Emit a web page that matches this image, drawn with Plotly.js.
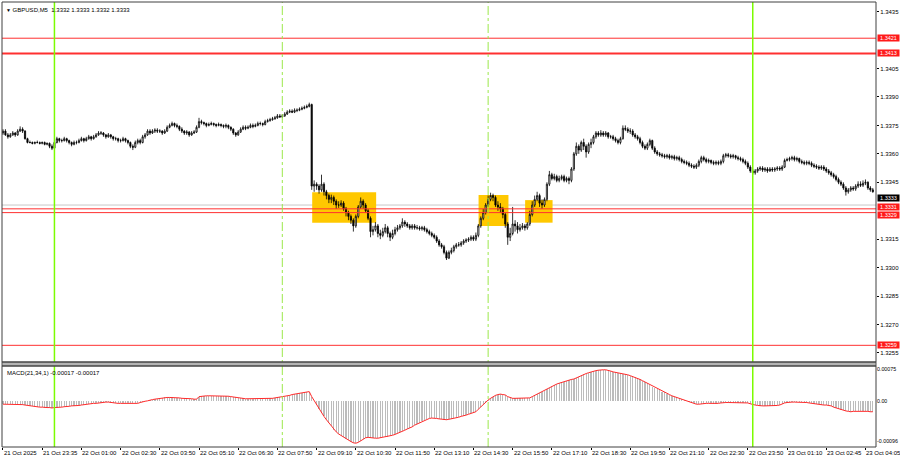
<!DOCTYPE html>
<html>
<head>
<meta charset="utf-8">
<script src="https://cdn.plot.ly/plotly-3.0.1.min.js"></script>
<style>html,body{margin:0;padding:0;background:#fff;}#chart{width:900px;height:460px;}</style>
</head>
<body>
<div id="chart"></div>
<script>
// ---- data (GBPUSD M5) ----
const firstOpen = 1.3371;
const close = [
1.3372,1.3370,1.3369,1.3370,1.3371,1.3370,1.3372,1.3373,1.3372,1.3368,
1.3366,1.3366,1.33655,1.3366,1.3366,1.33655,1.3366,1.3365,1.33655,1.3364,
1.3363,1.3366,1.3368,1.3367,1.3367,1.3368,1.3367,1.3366,1.3365,1.3366,
1.3366,1.3367,1.3368,1.3367,1.3368,1.3369,1.3368,1.3369,1.3370,1.3371,
1.3371,1.3370,1.3369,1.3370,1.3369,1.3368,1.3368,1.3367,1.3367,1.3368,
1.3367,1.3366,1.3364,1.33635,1.3366,1.3367,1.3366,1.3369,1.3370,1.3372,
1.3371,1.3372,1.33725,1.3372,1.3372,1.3371,1.3372,1.3374,1.3375,1.3376,
1.3375,1.33745,1.3373,1.3372,1.3371,1.33715,1.3370,1.3371,1.33715,1.3374,
1.3377,1.33765,1.3376,1.3375,1.33755,1.3376,1.33755,1.3375,1.33755,1.3375,
1.33745,1.3375,1.3374,1.3373,1.3371,1.3370,1.33715,1.3373,1.3374,1.33735,
1.3374,1.3375,1.33745,1.3375,1.3376,1.3376,1.33755,1.3377,1.33775,1.3378,
1.33785,1.3379,1.3380,1.33795,1.3380,1.3381,1.3382,1.33825,1.3382,1.3383,
1.3383,1.33835,1.3384,1.33845,1.3385,1.3386,1.3343,1.3344,1.3343,1.3341,
1.3344,1.3340,1.3338,1.3336,1.3337,1.3335,1.3333,1.3333,1.3334,1.3331,
1.3329,1.3327,1.3325,1.3322,1.3327,1.3332,1.3335,1.3333,1.3330,1.3326,
1.3319,1.3320,1.3322,1.3318,1.3317,1.3319,1.3321,1.3318,1.3316,1.3318,
1.3320,1.3321,1.3322,1.3324,1.3323,1.3322,1.3321,1.3322,1.3321,1.3321,
1.33205,1.3321,1.3320,1.3319,1.3318,1.3317,1.3316,1.3314,1.3312,1.3311,
1.3308,1.3305,1.3308,1.3309,1.3311,1.3312,1.3312,1.3313,1.3314,1.33145,
1.3315,1.3316,1.3315,1.3317,1.3322,1.3326,1.3329,1.3333,1.3336,1.3338,
1.3337,1.3333,1.3332,1.3331,1.3328,1.3323,1.3316,1.3318,1.3323,1.3322,
1.3320,1.3321,1.3322,1.3321,1.3323,1.3328,1.3333,1.3336,1.3338,1.3334,
1.3333,1.3336,1.3344,1.3349,1.3347,1.3348,1.3346,1.3347,1.3348,1.3346,
1.3347,1.3346,1.3352,1.3360,1.3364,1.3362,1.3366,1.3364,1.3361,1.3365,
1.3366,1.3369,1.3371,1.3370,1.3371,1.3370,1.3371,1.3369,1.3369,1.3368,
1.3367,1.3366,1.3368,1.33735,1.3373,1.3372,1.3372,1.3370,1.3369,1.3368,
1.3366,1.3364,1.3363,1.3365,1.3367,1.3363,1.3361,1.3360,1.33595,1.3359,
1.33585,1.3359,1.3358,1.33585,1.33575,1.3358,1.3357,1.3356,1.33555,1.3355,
1.3354,1.33535,1.3353,1.3354,1.3356,1.3358,1.3357,1.3356,1.33565,1.33555,
1.3355,1.33555,1.3355,1.3356,1.3359,1.33595,1.3359,1.33585,1.3359,1.3358,
1.33575,1.3357,1.3356,1.3355,1.3353,1.3351,1.3350,1.3351,1.3352,1.33525,
1.33515,1.3352,1.3351,1.3352,1.33515,1.3352,1.33525,1.3352,1.3353,1.33565,
1.3357,1.33575,1.3358,1.3357,1.33575,1.3356,1.33555,1.3355,1.33555,1.3355,
1.3354,1.33535,1.3353,1.33525,1.3353,1.3352,1.3351,1.3350,1.3349,1.3348,
1.33465,1.3345,1.3344,1.3342,1.3340,1.3341,1.3342,1.33415,1.3343,1.3344,
1.33435,1.33445,1.3345,1.3342,1.3341,1.3340
];
const high = [
1.3373,1.3373,1.3371,1.3371,1.3372,1.33715,1.3373,1.33745,1.3374,1.33725,
1.33685,1.3367,1.33665,1.33665,1.3367,1.33665,1.33665,1.33665,1.3366,1.3366,
1.3365,1.3367,1.3369,1.33685,1.3368,1.3369,1.33685,1.33675,1.33665,1.3367,
1.3367,1.3368,1.3369,1.33685,1.3369,1.3370,1.33695,1.3370,1.3371,1.3372,
1.3372,1.33715,1.33705,1.3371,1.33705,1.33695,1.3369,1.33685,1.3368,1.3369,
1.33685,1.33675,1.33665,1.3365,1.3367,1.3368,1.3368,1.3370,1.3371,1.3373,
1.3373,1.3373,1.33735,1.33735,1.3373,1.33725,1.3373,1.3375,1.3376,1.3377,
1.33765,1.3376,1.3375,1.3374,1.33725,1.33725,1.3372,1.3372,1.33725,1.3375,
1.3379,1.3378,1.3377,1.33765,1.33765,1.3377,1.33765,1.3376,1.33765,1.3376,
1.33755,1.3376,1.33755,1.33745,1.33735,1.33715,1.33725,1.3374,1.3375,1.3375,
1.3375,1.3376,1.3376,1.3376,1.3377,1.3377,1.33765,1.3378,1.33785,1.3379,
1.33795,1.3380,1.3381,1.3381,1.3381,1.3382,1.3383,1.33835,1.33835,1.3384,
1.3384,1.33845,1.3385,1.33855,1.3386,1.3387,1.33865,1.3346,1.3345,1.3344,
1.3349,1.3345,1.3341,1.3339,1.33385,1.3338,1.3336,1.3335,1.33355,1.3335,
1.3332,1.3330,1.3328,1.3326,1.3328,1.3333,1.3337,1.3336,1.3334,1.3331,
1.3327,1.3322,1.3324,1.3323,1.3320,1.3321,1.3323,1.3322,1.3319,1.3320,
1.33215,1.33225,1.3323,1.3326,1.3325,1.3324,1.3323,1.3323,1.3323,1.33225,
1.3322,1.3322,1.3322,1.3321,1.3320,1.3319,1.3318,1.3317,1.3315,1.3313,
1.3312,1.3309,1.3309,1.33105,1.3312,1.3313,1.33135,1.3314,1.3315,1.33155,
1.3316,1.3317,1.3317,1.33185,1.3323,1.3327,1.3331,1.3334,1.3338,1.33395,
1.3339,1.3338,1.3335,1.3334,1.3332,1.3329,1.3324,1.3321,1.3332,1.3325,
1.3324,1.3323,1.33235,1.3323,1.3324,1.3330,1.3335,1.3338,1.3340,1.3339,
1.3336,1.3337,1.3345,1.3351,1.3350,1.33495,1.3349,1.33485,1.3349,1.3349,
1.3348,1.3348,1.3353,1.3361,1.3366,1.3365,1.3367,1.3368,1.3365,1.3366,
1.3368,1.3370,1.3372,1.3372,1.33725,1.3372,1.3372,1.33715,1.3370,1.3370,
1.3369,1.3368,1.3369,1.3375,1.3375,1.3374,1.33735,1.3373,1.3371,1.3370,
1.3369,1.3367,1.3365,1.3366,1.3368,1.33675,1.3364,1.3362,1.3361,1.33605,
1.3360,1.3360,1.3360,1.33595,1.33595,1.3359,1.3359,1.3358,1.3357,1.33565,
1.3356,1.3355,1.33545,1.3355,1.3357,1.3359,1.3359,1.3358,1.33575,1.3357,
1.33565,1.33565,1.33565,1.3357,1.3360,1.33605,1.33605,1.3360,1.3360,1.33595,
1.3359,1.33585,1.3358,1.3357,1.3356,1.3354,1.3352,1.3352,1.3353,1.33535,
1.33535,1.3353,1.3353,1.3353,1.3353,1.3353,1.33535,1.33535,1.3354,1.33575,
1.3358,1.33585,1.3359,1.3359,1.33585,1.3358,1.3357,1.33565,1.33565,1.33565,
1.3356,1.3355,1.33545,1.3354,1.3354,1.3354,1.3353,1.3352,1.3351,1.3350,
1.3349,1.33475,1.3346,1.3345,1.3343,1.3342,1.3343,1.3343,1.3344,1.33455,
1.33455,1.3346,1.33465,1.33455,1.3343,1.3342
];
const low = [
1.3370,1.33695,1.3368,1.33685,1.33695,1.3369,1.33695,1.33715,1.3371,1.33675,
1.33655,1.33655,1.3365,1.3365,1.33655,1.3365,1.3365,1.33645,1.33645,1.3363,
1.3362,1.33625,1.33655,1.3366,1.3366,1.33665,1.3366,1.3365,1.3364,1.33645,
1.3365,1.33655,1.33665,1.3366,1.33665,1.33675,1.3367,1.33675,1.33685,1.33695,
1.3370,1.3369,1.3368,1.33685,1.3368,1.3367,1.3367,1.3366,1.3366,1.33665,
1.3366,1.3365,1.3363,1.3362,1.3363,1.3365,1.3365,1.33655,1.3368,1.33695,
1.3370,1.33705,1.3371,1.3371,1.3371,1.3370,1.33705,1.33715,1.33735,1.33745,
1.3374,1.33735,1.3372,1.3371,1.3370,1.3370,1.3369,1.33695,1.33705,1.3371,
1.33735,1.33755,1.3375,1.3374,1.33745,1.3375,1.33745,1.3374,1.33745,1.3374,
1.33735,1.33735,1.3373,1.3372,1.3370,1.3369,1.33695,1.3371,1.33725,1.33725,
1.3373,1.33735,1.33735,1.3374,1.33745,1.3375,1.33745,1.3375,1.33765,1.3377,
1.33775,1.3378,1.33785,1.3379,1.3379,1.33795,1.33805,1.33815,1.33815,1.33815,
1.3382,1.33825,1.3383,1.33835,1.3384,1.33845,1.3341,1.3340,1.3341,1.3339,
1.3340,1.3338,1.3336,1.3334,1.3334,1.3333,1.3331,1.33315,1.3332,1.3330,
1.3327,1.3325,1.3323,1.3319,1.3321,1.3326,1.3331,1.3331,1.3329,1.3325,
1.3316,1.3317,1.3319,1.3316,1.3315,1.3316,1.3318,1.3316,1.3314,1.3315,
1.3317,1.3319,1.3320,1.3321,1.33215,1.3321,1.3320,1.3320,1.3320,1.3320,
1.33195,1.33195,1.3319,1.3318,1.3317,1.3316,1.3315,1.3313,1.3311,1.3310,
1.3307,1.3304,1.33045,1.3307,1.3308,1.3310,1.3311,1.3311,1.3312,1.3313,
1.33135,1.3314,1.3314,1.3314,1.3316,1.3321,1.3325,1.3328,1.3332,1.3335,
1.3335,1.3332,1.3330,1.3329,1.3326,1.3321,1.3312,1.3314,1.3317,1.3319,
1.3318,1.3319,1.3320,1.33195,1.3320,1.3322,1.3327,1.3332,1.3335,1.3332,
1.3331,1.3332,1.3335,1.3343,1.3346,1.3346,1.3345,1.3345,1.3346,1.3345,
1.3345,1.3344,1.3345,1.3351,1.3359,1.3360,1.3361,1.3362,1.3358,1.3360,
1.3363,1.3365,1.3368,1.3369,1.3369,1.3369,1.3369,1.3368,1.3368,1.3367,
1.3366,1.3365,1.3365,1.33675,1.3372,1.3371,1.33705,1.3369,1.3368,1.3367,
1.3365,1.3363,1.3362,1.3362,1.3364,1.3362,1.3360,1.3359,1.33585,1.3358,
1.33575,1.33575,1.3357,1.3357,1.33565,1.33565,1.3356,1.3355,1.33545,1.3354,
1.3353,1.33525,1.3352,1.3352,1.3353,1.3355,1.3356,1.3355,1.3355,1.33545,
1.3354,1.3354,1.3354,1.3354,1.3355,1.3358,1.3358,1.33575,1.33575,1.3357,
1.33565,1.3356,1.3355,1.3354,1.3352,1.3350,1.3349,1.3349,1.3350,1.3351,
1.33505,1.33505,1.3350,1.33505,1.33505,1.33505,1.3351,1.3351,1.3351,1.33525,
1.3356,1.3356,1.33565,1.3356,1.3356,1.3355,1.33545,1.3354,1.3354,1.3354,
1.3353,1.33525,1.3352,1.33515,1.33515,1.3351,1.3350,1.3349,1.3348,1.3347,
1.33455,1.3344,1.3343,1.3341,1.3338,1.3339,1.3340,1.33405,1.33405,1.3342,
1.33425,1.33425,1.33435,1.3341,1.3340,1.33395
];
const macd = [
-0.00008,-0.00008,-0.00008,-0.00008,-0.00008,-0.00008,-0.00009,-0.00009,-0.00009,-0.00010,
-0.00011,-0.00012,-0.00013,-0.00014,-0.00014,-0.00015,-0.00015,-0.00016,-0.00016,-0.00016,
-0.00017,-0.00016,-0.00016,-0.00015,-0.00015,-0.00014,-0.00014,-0.00013,-0.00012,-0.00012,
-0.00011,-0.00011,-0.00010,-0.00009,-0.00008,-0.00007,-0.00007,-0.00006,-0.00006,-0.00005,
-0.00004,-0.00003,-0.00003,-0.00003,-0.00004,-0.00005,-0.00005,-0.00006,-0.00006,-0.00006,
-0.00006,-0.00006,-0.00006,-0.00006,-0.00006,-0.00006,-0.00004,-0.00002,-0.00001,0.00000,
0.00002,0.00003,0.00004,0.00005,0.00006,0.00007,0.00008,0.00008,0.00008,0.00008,
0.00007,0.00007,0.00007,0.00006,0.00006,0.00006,0.00005,0.00005,0.00004,0.00004,
0.00010,0.00011,0.00012,0.00012,0.00012,0.00012,0.00012,0.00012,0.00012,0.00012,
0.00012,0.00011,0.00011,0.00010,0.00009,0.00008,0.00007,0.00006,0.00006,0.00005,
0.00005,0.00005,0.00005,0.00005,0.00005,0.00005,0.00005,0.00005,0.00006,0.00006,
0.00006,0.00007,0.00008,0.00008,0.00009,0.00010,0.00012,0.00013,0.00015,0.00016,
0.00017,0.00018,0.00019,0.00020,0.00021,0.00022,0.00010,0.00000,-0.00010,-0.00020,
-0.00028,-0.00037,-0.00045,-0.00053,-0.00061,-0.00069,-0.00074,-0.00079,-0.00083,-0.00087,
-0.00091,-0.00094,-0.00097,-0.00100,-0.00101,-0.00099,-0.00095,-0.00091,-0.00088,-0.00087,
-0.00088,-0.00089,-0.00089,-0.00089,-0.00088,-0.00087,-0.00086,-0.00085,-0.00084,-0.00082,
-0.00080,-0.00077,-0.00075,-0.00072,-0.00070,-0.00067,-0.00065,-0.00062,-0.00058,-0.00055,
-0.00052,-0.00049,-0.00046,-0.00043,-0.00042,-0.00041,-0.00041,-0.00042,-0.00043,-0.00044,
-0.00045,-0.00045,-0.00044,-0.00043,-0.00042,-0.00040,-0.00039,-0.00037,-0.00036,-0.00034,
-0.00032,-0.00030,-0.00028,-0.00026,-0.00020,-0.00014,-0.00008,-0.00003,0.00002,0.00006,
0.00010,0.00013,0.00015,0.00016,0.00015,0.00014,0.00010,0.00007,0.00006,0.00006,
0.00006,0.00006,0.00006,0.00006,0.00006,0.00007,0.00010,0.00013,0.00016,0.00019,
0.00021,0.00024,0.00028,0.00031,0.00035,0.00038,0.00040,0.00042,0.00044,0.00046,
0.00048,0.00050,0.00051,0.00052,0.00055,0.00058,0.00061,0.00063,0.00065,0.00067,
0.00069,0.00071,0.00072,0.00073,0.00074,0.00074,0.00074,0.00073,0.00071,0.00069,
0.00068,0.00067,0.00066,0.00065,0.00064,0.00062,0.00060,0.00058,0.00056,0.00054,
0.00051,0.00048,0.00045,0.00042,0.00038,0.00034,0.00031,0.00028,0.00025,0.00022,
0.00020,0.00017,0.00015,0.00012,0.00010,0.00008,0.00006,0.00004,0.00002,0.00000,
-0.00002,-0.00004,-0.00006,-0.00008,-0.00008,-0.00007,-0.00007,-0.00006,-0.00006,-0.00006,
-0.00007,-0.00007,-0.00006,-0.00005,-0.00004,-0.00004,-0.00004,-0.00004,-0.00004,-0.00004,
-0.00004,-0.00004,-0.00004,-0.00004,-0.00005,-0.00007,-0.00009,-0.00010,-0.00011,-0.00012,
-0.00012,-0.00012,-0.00012,-0.00012,-0.00012,-0.00012,-0.00011,-0.00010,-0.00007,-0.00005,
-0.00004,-0.00003,-0.00003,-0.00003,-0.00003,-0.00003,-0.00003,-0.00003,-0.00004,-0.00005,
-0.00006,-0.00007,-0.00008,-0.00008,-0.00009,-0.00010,-0.00010,-0.00011,-0.00012,-0.00015,
-0.00017,-0.00019,-0.00021,-0.00022,-0.00024,-0.00025,-0.00026,-0.00025,-0.00025,-0.00024,
-0.00024,-0.00024,-0.00024,-0.00025,-0.00026,-0.00026
];
const timeLabels = ["21 Oct 2025","21 Oct 23:35","22 Oct 01:00","22 Oct 02:30","22 Oct 03:50","22 Oct 05:10","22 Oct 06:30","22 Oct 07:50","22 Oct 09:10","22 Oct 10:30","22 Oct 11:50","22 Oct 13:10","22 Oct 14:30","22 Oct 15:50","22 Oct 17:10","22 Oct 18:30","22 Oct 19:50","22 Oct 21:10","22 Oct 22:30","22 Oct 23:50","23 Oct 01:10","23 Oct 02:45","23 Oct 04:05"];
const timeLabelBars = [0,16,32,48,64,80,96,112,128,144,160,176,192,208,224,240,256,272,288,304,320,336,352];
const priceTicks = [1.3435,1.3405,1.3390,1.3375,1.3360,1.3345,1.3315,1.3300,1.3285,1.3270,1.3255];
const macdTicks = [0.00075,0.00,-0.00096];
const macdTickText = ["0.00075","0.00","-0.00096"];
const levels = [1.3421,1.3413,1.3331,1.3329,1.3259];
const levelWidths = [1,2,1,1,1];
const levelLabelShift = [0,0,2,-2,0];
const currentPrice = 1.3333;
const dayStartBars = [21,306];
const sessionBars = [114,198];
const zones = [ // [fromBar, toBar, top, bottom]
  [126.2,152.3,1.33397,1.33237],
  [194.1,206.3,1.33383,1.33219],
  [213.1,224.3,1.33356,1.33237]
];
const chartTitle = "GBPUSD,M5  1.3332 1.3333 1.3332 1.3333";
const macdTitle = "MACD(21,34,1) -0.00017 -0.00017";

// ---- build ----
const bars = close.map((_, i) => i);
const open = [firstOpen].concat(close.slice(0, -1));
const FONT = "Liberation Sans, Arial, DejaVu Sans, sans-serif";
const MAIN_DOM = [0.191, 1];
const MACD_DOM = [0, 0.182];

const traces = [
  {
    type: 'candlestick', x: bars, open: open, high: high, low: low, close: close,
    xaxis: 'x', yaxis: 'y', hoverinfo: 'skip', whiskerwidth: 0,
    increasing: {line: {color: '#000000', width: 0.8}, fillcolor: '#ffffff'},
    decreasing: {line: {color: '#000000', width: 0.8}, fillcolor: '#000000'},
    showlegend: false
  },
  {
    type: 'bar', x: bars, y: macd, xaxis: 'x', yaxis: 'y2', width: 0.5,
    marker: {color: '#bcbcbc', line: {width: 0}}, hoverinfo: 'skip', showlegend: false
  },
  {
    type: 'scatter', mode: 'lines', x: bars, y: macd, xaxis: 'x', yaxis: 'y2',
    line: {color: '#ff2a2a', width: 1}, hoverinfo: 'skip', showlegend: false
  }
];

const shapes = [];
zones.forEach(z => shapes.push({type: 'rect', xref: 'x', yref: 'y', x0: z[0], x1: z[1], y0: z[3], y1: z[2],
  fillcolor: '#ffc800', line: {width: 0}, layer: 'below'}));
shapes.push({type: 'line', xref: 'paper', yref: 'y', x0: 0, x1: 1, y0: currentPrice, y1: currentPrice,
  line: {color: '#c8c8c8', width: 1}, layer: 'below'});
levels.forEach((lv, k) => shapes.push({type: 'line', xref: 'paper', yref: 'y', x0: 0, x1: 1, y0: lv, y1: lv,
  line: {color: '#ff3030', width: levelWidths[k]}, layer: 'above'}));
dayStartBars.forEach(b => shapes.push({type: 'line', xref: 'x', yref: 'paper', x0: b, x1: b, y0: 0, y1: 1,
  line: {color: '#7cfc00', width: 1.5}, layer: 'above'}));
sessionBars.forEach(b => shapes.push({type: 'line', xref: 'x', yref: 'paper', x0: b, x1: b, y0: 0, y1: 1,
  line: {color: '#9be84a', width: 1, dash: 'dashdot'}, layer: 'above'}));
// pane borders and separator
shapes.push({type: 'rect', xref: 'paper', yref: 'paper', x0: 0, x1: 1, y0: MACD_DOM[1], y1: MAIN_DOM[0],
  fillcolor: '#b4b4b4', line: {color: '#505050', width: 1}, layer: 'above'});
shapes.push({type: 'rect', xref: 'paper', yref: 'paper', x0: 0, x1: 1, y0: MAIN_DOM[0], y1: 1,
  line: {color: '#404040', width: 1}, fillcolor: 'rgba(0,0,0,0)', layer: 'above'});
shapes.push({type: 'rect', xref: 'paper', yref: 'paper', x0: 0, x1: 1, y0: 0, y1: MACD_DOM[1],
  line: {color: '#404040', width: 1}, fillcolor: 'rgba(0,0,0,0)', layer: 'above'});

const annotations = [];
timeLabels.forEach((t, k) => annotations.push({
  xref: 'x', yref: 'paper', x: timeLabelBars[k], y: 0, xanchor: 'left', yanchor: 'top', yshift: -1, xshift: -1,
  text: t, showarrow: false, font: {family: FONT, size: 6, color: '#000'}
}));
annotations.push({xref: 'paper', yref: 'y', x: 1, y: currentPrice, xanchor: 'left', yanchor: 'middle', xshift: 1, yshift: 7,
  text: currentPrice.toFixed(4), showarrow: false, bgcolor: '#000000', borderpad: 0, width: 21, height: 6,
  font: {family: FONT, size: 5.5, color: '#ffffff'}});
levels.forEach((lv, k) => annotations.push({xref: 'paper', yref: 'y', x: 1, y: lv, xanchor: 'left', yanchor: 'middle', xshift: 1,
  yshift: levelLabelShift[k], width: 21, height: 6,
  text: lv.toFixed(4), showarrow: false, bgcolor: '#ff1a1a', borderpad: 0,
  font: {family: FONT, size: 5.5, color: '#ffffff'}}));
annotations.push({xref: 'paper', yref: 'paper', x: 0, y: 1, xanchor: 'left', yanchor: 'top', xshift: 2, yshift: -3,
  text: '<span style="font-size:5px">▼</span> ' + chartTitle, showarrow: false, font: {family: FONT, size: 6, color: '#000'}});
annotations.push({xref: 'paper', yref: 'paper', x: 0, y: MACD_DOM[1], xanchor: 'left', yanchor: 'top', xshift: 3, yshift: -2,
  text: macdTitle, showarrow: false, font: {family: FONT, size: 6, color: '#000'}});

const layout = {
  width: 900, height: 460,
  margin: {l: 2, r: 24, t: 2, b: 13, pad: 0},
  paper_bgcolor: '#ffffff', plot_bgcolor: '#ffffff',
  showlegend: false, hovermode: false, dragmode: false,
  bargap: 0,
  xaxis: {
    range: [-0.4, 356.3], anchor: 'y2', showgrid: false, zeroline: false,
    rangeslider: {visible: false}, showticklabels: false,
    tickmode: 'array', tickvals: timeLabelBars, ticks: 'outside', ticklen: 2, tickcolor: '#000',
    showline: false
  },
  yaxis: {
    domain: MAIN_DOM, range: [1.32502, 1.34401], side: 'right', showgrid: false, zeroline: false,
    tickmode: 'array', tickvals: priceTicks, tickformat: '.4f', ticks: 'outside', ticklen: 2, tickcolor: '#000',
    tickfont: {family: FONT, size: 6, color: '#000'}, showline: false, fixedrange: true
  },
  yaxis2: {
    domain: MACD_DOM, range: [-0.00110, 0.00083], side: 'right', showgrid: false, zeroline: false,
    tickmode: 'array', tickvals: macdTicks, ticktext: macdTickText, ticks: '', ticklen: 0,
    tickfont: {family: FONT, size: 5.3, color: '#000'}, showline: false, fixedrange: true
  },
  shapes: shapes,
  annotations: annotations
};

Plotly.newPlot('chart', traces, layout, {staticPlot: true, displayModeBar: false});
</script>
</body>
</html>
